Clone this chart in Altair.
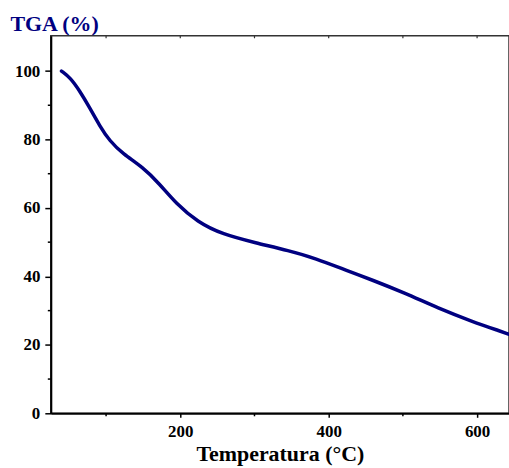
import altair as alt
import pandas as pd

# TGA curve: temperature (°C) vs remaining mass (%)
temperature = [39.9, 52.0, 64.4, 77.9, 91.3, 104.7, 122.6, 149.4, 171.8, 194.2,
               223.2, 256.8, 301.6, 346.3, 382.1, 424.6, 458.1, 503.0,
               547.7, 592.3, 632.6, 643.0]
mass = [100.0, 98.0, 94.2, 89.3, 84.0, 79.6, 75.8, 71.9, 67.1, 61.3,
        55.9, 52.3, 49.8, 47.5, 45.3, 41.7, 39.0, 35.1,
        30.7, 26.9, 23.9, 23.1]

x_major = [200, 400, 600]
x_minor = [100, 300, 500]
x_top = [100, 200, 300, 400, 500, 600]
y_major = [0, 20, 40, 60, 80, 100]
y_minor = [10, 30, 50, 70, 90]

W, H = 460, 379
FONT = "Liberation Serif"
NAVY = "#000080"

curve = pd.DataFrame({"T": temperature, "M": mass})
xscale = alt.Scale(domain=[25.5, 643], nice=False, zero=False)
yscale = alt.Scale(domain=[0, 110.3], nice=False, zero=False)

line = alt.Chart(curve).mark_line(
    color=NAVY, strokeWidth=3.5, strokeCap="round", interpolate="basis", clip=True
).encode(
    x=alt.X("T:Q", scale=xscale,
            axis=alt.Axis(values=x_major, title="Temperatura (°C)", tickSize=4,
                          labelPadding=6, titlePadding=4, titleFontSize=22)),
    y=alt.Y("M:Q", scale=yscale,
            axis=alt.Axis(values=y_major, title="TGA (%)", tickSize=6, labelPadding=5,
                          titleAngle=0, titleAlign="left", titleBaseline="alphabetic",
                          titleX=-41, titleY=-5, titleColor=NAVY, titleFontSize=22)),
)

xminor = alt.Chart(pd.DataFrame({"T": x_minor})).mark_rule(
    color="black", strokeWidth=1.5
).encode(x=alt.X("T:Q", scale=xscale), y=alt.value(H), y2=alt.value(H + 3))

xtop = alt.Chart(pd.DataFrame({"T": x_top})).mark_rule(
    color="#333333", strokeWidth=1.2
).encode(x=alt.X("T:Q", scale=xscale), y=alt.value(0), y2=alt.value(2.5))

yminor = alt.Chart(pd.DataFrame({"M": y_minor})).mark_rule(
    color="black", strokeWidth=1.5
).encode(y=alt.Y("M:Q", scale=yscale), x=alt.value(-3), x2=alt.value(0))

chart = alt.layer(line, xminor, xtop, yminor).properties(
    width=W, height=H,
    autosize=alt.AutoSizeParams(type="none"),
    padding={"left": 51, "top": 35, "right": 0, "bottom": 54},
).configure_axis(
    grid=False,
    domainColor="black", domainWidth=2,
    tickColor="black", tickWidth=1.5,
    labelFont=FONT, labelFontWeight="bold", labelFontSize=17, labelColor="black",
    titleFont=FONT, titleFontWeight="bold", titleColor="black",
).configure_view(
    stroke="#333333", strokeWidth=1.5
)

chart.save("out.html", embed_options={"renderer": "svg", "actions": False})
